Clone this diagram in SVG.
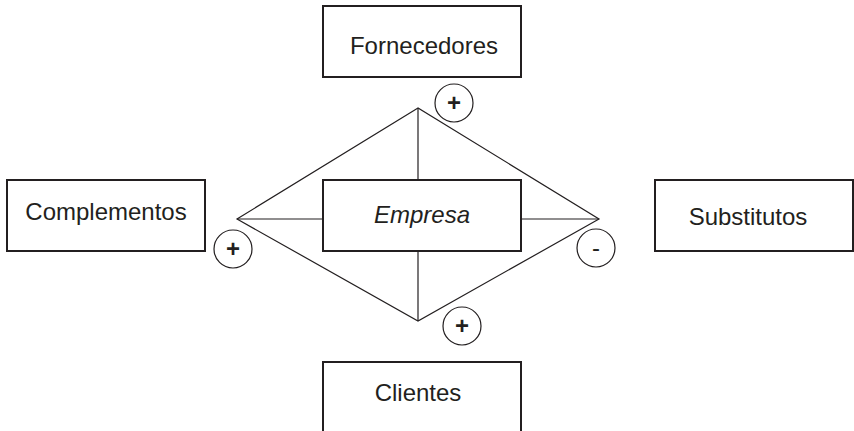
<svg xmlns="http://www.w3.org/2000/svg" width="854" height="431" viewBox="0 0 854 431">
<style>
.box{fill:#fff;stroke:#231f20;stroke-width:2}
.lbl{font-family:"Liberation Sans",Arial,sans-serif;font-size:24px;fill:#231f20;text-anchor:middle}
.ln{stroke:#231f20;stroke-width:1.2;fill:none}
.sig{fill:#fff;stroke:#231f20;stroke-width:1.2}
.sg{font-family:"Liberation Sans",Arial,sans-serif;font-size:24px;font-weight:bold;fill:#231f20;text-anchor:middle}
.sg.minus{font-weight:normal}
</style>
<rect width="854" height="431" fill="#fff"/>
<g id="connectors">
<path class="ln" d="M418,108 L237,219 L418,321 L599,219 Z"/>
<line class="ln" x1="418" y1="108" x2="418" y2="180"/>
<line class="ln" x1="418" y1="251" x2="418" y2="321"/>
<line class="ln" x1="237" y1="219" x2="323" y2="219"/>
<line class="ln" x1="521" y1="219" x2="599" y2="219"/>
</g>
<g id="fornecedores"><rect class="box" x="323" y="6" width="198" height="71"/><text class="lbl" x="424" y="54">Fornecedores</text></g>
<g id="complementos"><rect class="box" x="7" y="180" width="198" height="71"/><text class="lbl" x="106" y="220">Complementos</text></g>
<g id="empresa"><rect class="box" x="323" y="180" width="198" height="71"/><text class="lbl" x="422" y="223" font-style="italic">Empresa</text></g>
<g id="substitutos"><rect class="box" x="655" y="180" width="198" height="71"/><text class="lbl" x="748" y="225">Substitutos</text></g>
<g id="clientes"><rect class="box" x="323" y="362" width="198" height="80"/><text class="lbl" x="418" y="401">Clientes</text></g>
<g id="sign-top"><circle class="sig" cx="454" cy="103" r="19"/><text class="sg" x="454" y="111">+</text></g>
<g id="sign-left"><circle class="sig" cx="233" cy="249" r="19"/><text class="sg" x="233" y="257">+</text></g>
<g id="sign-right"><circle class="sig" cx="596" cy="248" r="19"/><text class="sg minus" x="596" y="256">-</text></g>
<g id="sign-bottom"><circle class="sig" cx="462" cy="326" r="19"/><text class="sg" x="462" y="334">+</text></g>
</svg>
